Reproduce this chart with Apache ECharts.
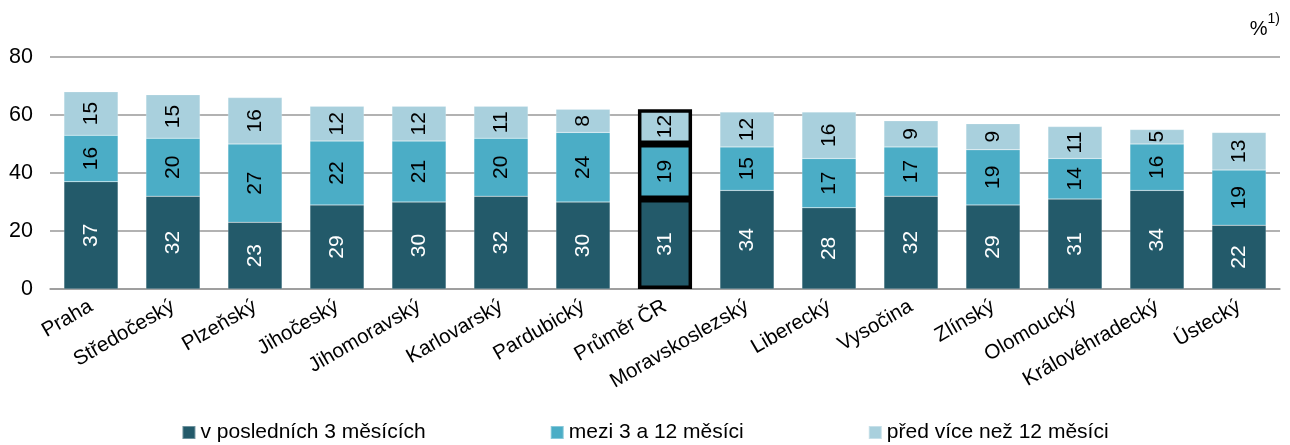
<!DOCTYPE html>
<html><head><meta charset="utf-8">
<script src="https://cdn.jsdelivr.net/npm/echarts@6/dist/echarts.min.js"></script>
<style>html,body{margin:0;padding:0;background:#fff}#c{width:1290px;height:445px}</style>
</head><body><div id="c"></div>
<script>
const categories = ["Praha","Středočeský","Plzeňský","Jihočeský","Jihomoravský","Karlovarský","Pardubický","Průměr ČR","Moravskoslezský","Liberecký","Vysočina","Zlínský","Olomoucký","Královéhradecký","Ústecký"];
const seriesNames = ["v posledních 3 měsících","mezi 3 a 12 měsíci","před více než 12 měsíci"];
const last3 = [37,32,23,29,30,32,30,31,34,28,32,29,31,34,22];
const mid3to12 = [16,20,27,22,21,20,24,19,15,17,17,19,14,16,19];
const over12 = [15,15,16,12,12,11,8,12,12,16,9,9,11,5,13];
const yTicks = [0,20,40,60,80];
const highlight = "Průměr ČR";

const colors = ["#235A6A","#4BADC6","#A9D0DD"];
const labelColors = ["#ffffff","#000000","#000000"];
const font = "Liberation Sans, Arial, sans-serif";

function mk(vals, i){
  return {
    name: seriesNames[i], type: 'bar', stack: 's',
    barCategoryGap: '34%',
    itemStyle: {color: colors[i], borderColor: 'rgba(255,255,255,0.35)', borderWidth: 0.5},
    label: {show: true, position: 'inside', rotate: 90, color: labelColors[i], fontSize: 21, fontFamily: font},
    data: vals.map((v, k) => categories[k] === highlight
      ? {value: v, itemStyle: {borderColor: '#000', borderWidth: 3.5}}
      : v)
  };
}

const chart = echarts.init(document.getElementById('c'));
chart.setOption({
  animation: false,
  textStyle: {fontFamily: font},
  grid: {left: 50, right: 10, top: 57, bottom: 156},
  legend: {
    bottom: -3, left: 'center', itemGap: 124, itemWidth: 13, itemHeight: 13, icon: 'rect',
    textStyle: {fontSize: 21, color: '#000', fontFamily: font}
  },
  xAxis: {
    type: 'category', data: categories,
    axisLine: {lineStyle: {color: '#999', width: 1.5}},
    axisTick: {length: 6, lineStyle: {color: '#999', width: 1.5}},
    axisLabel: {rotate: 30, fontSize: 20.5, color: '#000', margin: 16, interval: 0, fontFamily: font}
  },
  yAxis: {
    type: 'value', min: yTicks[0], max: yTicks[yTicks.length-1], interval: 20,
    axisLine: {show: false}, axisTick: {show: false},
    splitLine: {lineStyle: {color: '#999', width: 1.5}},
    axisLabel: {fontSize: 21.5, color: '#000', margin: 17, fontFamily: font}
  },
  graphic: [{
    type: 'text', right: 10, top: 12,
    style: {
      text: '{a|%}{b|1)}', fontFamily: font,
      rich: {a: {fontSize: 20, fill: '#000', fontFamily: font, padding: [7,0,0,0]}, b: {fontSize: 14, fill: '#000', fontFamily: font, verticalAlign: 'top'}}
    }
  }],
  series: [mk(last3,0), mk(mid3to12,1), mk(over12,2)]
});
</script></body></html>
